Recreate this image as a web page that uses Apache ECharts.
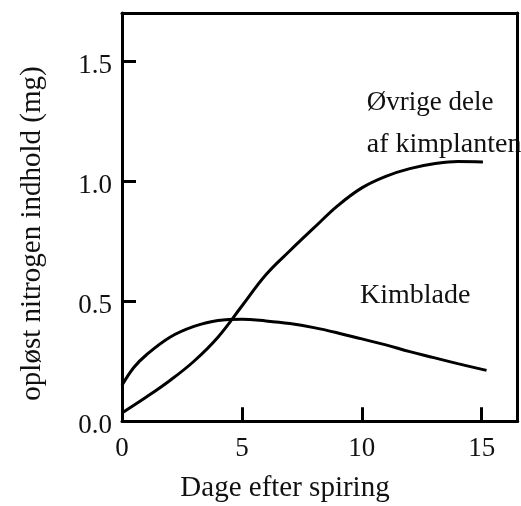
<!DOCTYPE html>
<html>
<head>
<meta charset="utf-8">
<script src="https://cdn.jsdelivr.net/npm/echarts@6/dist/echarts.min.js"></script>
<style>
html,body{margin:0;padding:0;background:#fff;}
#chart{width:521px;height:506px;}
</style>
</head>
<body>
<div id="chart"></div>
<script>
// Days after germination (x) and dissolved nitrogen content (mg)
const ovrigeDays   = [0, 1, 2, 3, 4, 5, 6, 7, 8, 9, 10, 11, 12, 13, 14, 15.05];
const ovrigeValues = [0.035, 0.1, 0.17, 0.25, 0.35, 0.48, 0.61, 0.71, 0.805, 0.898, 0.972, 1.02, 1.052, 1.072, 1.082, 1.08];
const kimDays   = [0, 0.5, 1, 2, 3, 4, 5, 6, 7, 8, 9, 10, 11, 12, 13, 14, 15.2];
const kimValues = [0.15, 0.225, 0.275, 0.35, 0.395, 0.42, 0.425, 0.418, 0.407, 0.39, 0.368, 0.343, 0.318, 0.29, 0.265, 0.24, 0.212];
const xTicks = [0, 5, 10, 15];
const yTicks = [0, 0.5, 1.0, 1.5];
const xLabel = 'Dage efter spiring';
const yLabel = 'opløst nitrogen indhold (mg)';
const seriesNames = ['Øvrige dele', 'af kimplanten', 'Kimblade'];

const FONT = '"Liberation Serif", "Times New Roman", serif';
const chart = echarts.init(document.getElementById('chart'), null, {renderer: 'canvas'});

const zip = (xs, ys) => xs.map((x, i) => [x, ys[i]]);

chart.setOption({
  animation: false,
  backgroundColor: '#fff',
  grid: {left: 122, right: 3.3, top: 13, bottom: 84.7},
  xAxis: [{
    type: 'value', min: 0, max: 16.5, position: 'bottom',
    axisLine: {show: true, onZero: false, lineStyle: {color: '#000', width: 3}},
    axisTick: {show: true, inside: true, length: 14, customValues: xTicks, lineStyle: {color: '#000', width: 3}},
    axisLabel: {customValues: xTicks, margin: 14, color: '#111', fontFamily: FONT, fontSize: 27},
    splitLine: {show: false}
  }, {
    type: 'value', min: 0, max: 16.5, position: 'top', z: 10,
    axisLine: {show: true, onZero: false, lineStyle: {color: '#000', width: 3}},
    axisTick: {show: false}, axisLabel: {show: false}, splitLine: {show: false}
  }],
  yAxis: [{
    type: 'value', min: 0, max: 1.7, position: 'left',
    axisLine: {show: true, onZero: false, lineStyle: {color: '#000', width: 3}},
    axisTick: {show: true, inside: true, length: 14, customValues: yTicks, lineStyle: {color: '#000', width: 3}},
    axisLabel: {customValues: yTicks, margin: 10, color: '#111', fontFamily: FONT, fontSize: 27,
      formatter: v => '{a|' + v.toFixed(1) + '}',
      rich: {a: {fontFamily: FONT, fontSize: 27, color: '#111', padding: [9, 0, 0, 0]}}},
    splitLine: {show: false}
  }, {
    type: 'value', min: 0, max: 1.7, position: 'right', z: 10,
    axisLine: {show: true, onZero: false, lineStyle: {color: '#000', width: 3}},
    axisTick: {show: false}, axisLabel: {show: false}, splitLine: {show: false}
  }],
  series: [{
    name: seriesNames[0] + ' ' + seriesNames[1], type: 'line', smooth: 0.4, showSymbol: false,
    lineStyle: {color: '#000', width: 3}, data: zip(ovrigeDays, ovrigeValues)
  }, {
    name: seriesNames[2], type: 'line', smooth: 0.4, showSymbol: false,
    lineStyle: {color: '#000', width: 3}, data: zip(kimDays, kimValues)
  }],
  graphic: [
    {type: 'text', z: 1, x: 366.7, y: 103, style: {text: seriesNames[0], font: '27px ' + FONT, fill: '#111', textAlign: 'left', textVerticalAlign: 'middle'}},
    {type: 'text', z: 1, x: 366.7, y: 145, style: {text: seriesNames[1], font: '28px ' + FONT, fill: '#111', textAlign: 'left', textVerticalAlign: 'middle'}},
    {type: 'text', z: 1, x: 360, y: 296, style: {text: seriesNames[2], font: '28px ' + FONT, fill: '#111', textAlign: 'left', textVerticalAlign: 'middle'}},
    {type: 'text', z: 1, x: 285, y: 488, style: {text: xLabel, font: '29px ' + FONT, fill: '#111', textAlign: 'center', textVerticalAlign: 'middle'}},
    {type: 'text', z: 1, x: 32, y: 233.5, rotation: Math.PI / 2, style: {text: yLabel, font: '29px ' + FONT, fill: '#111', textAlign: 'center', textVerticalAlign: 'middle'}}
  ]
});
</script>
</body>
</html>
